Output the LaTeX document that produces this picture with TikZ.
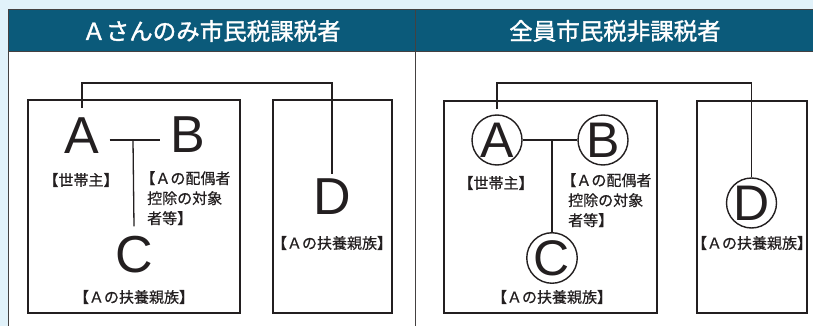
\documentclass[tikz,border=0pt]{standalone}
\usepackage{fontspec}
\setmainfont{Liberation Sans}
\newfontfamily\jp[FakeBold=0.6]{Noto Sans CJK JP}
\newfontfamily\jphead[FakeBold=1.4]{Noto Sans CJK JP}
\definecolor{bgblue}{HTML}{E1F2FA}
\definecolor{headteal}{HTML}{0B5A7A}
\definecolor{ink}{HTML}{231F20}
\begin{document}
\begin{tikzpicture}[x=1pt,y=-1pt,
  panelline/.style={draw=ink!85, line width=1pt},
  frame/.style={draw=ink, line width=1.3pt},
  conn/.style={draw=ink, line width=1.3pt},
  letter/.style={font=\fontsize{52}{52}\selectfont, inner sep=10pt, text=ink},
  circ/.style={circle, draw=ink, line width=1.4pt, minimum size=50pt, inner sep=0pt, font=\fontsize{50}{50}\selectfont, text=ink},
  lab/.style={font=\jp\fontsize{15}{20}\selectfont, inner sep=0pt, text=ink},
  head/.style={font=\jphead\fontsize{23.5}{24}\selectfont, text=white},
]
\useasboundingbox (0,0) rectangle (813,326);
\fill[bgblue] (0,0) rectangle (813,326);
\fill[white] (8,52) rectangle (813,326);
\fill[headteal] (8,10) rectangle (813,52);
\draw[panelline] (813,10) -- (8,10) -- (8,326);
\draw[panelline] (8,52) -- (813,52);
\draw[panelline] (415,10) -- (415,326);

\node[head] (h1) at (211.5,31) {Ａさんのみ市民税課税者};
\node[head] (h2) at (615,31) {全員市民税非課税者};

% ---------- left panel ----------
\draw[frame] (28,100) rectangle (240,313);
\draw[frame] (273,100) rectangle (392,313);

\node[letter] (A) at (82,136) {A};
\node[letter] (B) at (188,135) {B};
\node[letter] (C) at (134,255) {C};
\node[letter] (D) at (332,197) {D};
\coordinate (jL) at (133,140);

\draw[conn] (A.east |- jL) -- (B.west |- jL);
\draw[conn] (jL) -- (C.north);
\draw[conn, shorten >=-5pt] (A.north) -- (A.north |- 0,83) -| (D.north);

\node[lab] (lA) at (81,180) {【世帯主】};
\node[lab, align=left, anchor=north west] (lB) at (147,171) {\hspace*{-0.45em}【Ａの配偶者\\控除の対象\\者等】};
\node[lab] (lC) at (134,297) {【Ａの扶養親族】};
\node[lab] (lD) at (332,243) {【Ａの扶養親族】};

% ---------- right panel ----------
\draw[frame] (444,101) rectangle (657,313);
\draw[frame] (697,101) rectangle (807,313);

\node[circ] (cA) at (497,140) {A};
\node[circ] (cB) at (603,140) {B};
\node[circ] (cC) at (552,258) {C};
\node[circ] (cD) at (751.5,203) {D};
\coordinate (jR) at (552,140);

\draw[conn] (cA) -- (cB);
\draw[conn] (jR) -- (cC.north);
\draw[conn, shorten <=5pt] (cA.north) -- (cA.north |- 0,83) -| (cD.north);

\node[lab] (rA) at (496,183) {【世帯主】};
\node[lab, align=left, anchor=north west] (rB) at (568,173) {\hspace*{-0.45em}【Ａの配偶者\\控除の対象\\者等】};
\node[lab] (rC) at (552,297) {【Ａの扶養親族】};
\node[lab] (rD) at (752,243) {【Ａの扶養親族】};
\end{tikzpicture}
\end{document}
